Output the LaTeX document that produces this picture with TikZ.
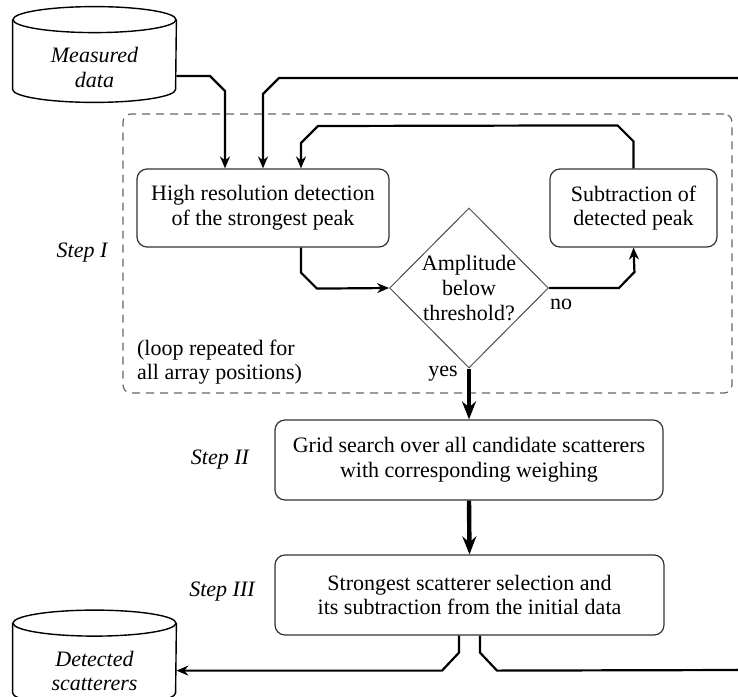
\documentclass[tikz,border=0pt]{standalone}
\usepackage{fontspec}
\setmainfont{Liberation Serif}
\usetikzlibrary{shapes.geometric,arrows.meta,calc}

\begin{document}
\begin{tikzpicture}[x=0.5pt,y=-0.5pt,font=\fontsize{11}{12.3}\selectfont,
    box/.style={draw=black!80,line width=0.6pt,rounded corners=5pt,align=center,inner sep=0pt},
    storebox/.style={minimum width=81.5pt,minimum height=34.5pt,inner sep=0pt,align=center,font=\fontsize{11}{12.3}\selectfont\itshape},
    frame/.style={draw=black!60,dash pattern=on 4pt off 3pt,line width=0.6pt,rounded corners=4pt,inner sep=0pt},
    conn/.style={line width=1.1pt,-{Stealth[length=6pt,width=5pt,inset=2pt]}},
    bigconn/.style={line width=2.2pt,-{Stealth[length=9pt,width=7pt,inset=3pt]}},
    steptext/.style={font=\fontsize{11}{12.3}\selectfont\itshape}]
		\useasboundingbox (0,0) rectangle (738,696);
		% stores (drawn as cylinders round the nodes)
		\node[storebox] (meas) at (94.5,67.5) {Measured\\data};
		\node[storebox] (det) at (94.5,671) {Detected\\scatterers};
		\foreach \s in {meas,det}{
			\draw[line width=0.7pt] ($(\s.north west)+(0,-13)$) -- ($(\s.south west)+(0,-13)$)
				arc[start angle=180,end angle=0,x radius=81.5,y radius=13] -- ($(\s.north east)+(0,-13)$);
			\draw[line width=0.7pt] ($(\s.north)+(0,-13)$) ellipse[x radius=81.5,y radius=13];
		}
		% loop of step I
		\node[frame,minimum width=304.5pt,minimum height=139.5pt] (loopbox) at (427.5,253.5) {};
		\node[box,minimum width=126pt,minimum height=39pt] (hres) at (263,208) {High resolution detection\\of the strongest peak};
		\node[box,minimum width=83.5pt,minimum height=39pt] (subt) at (633.5,208) {Subtraction of\\detected peak};
		\node[draw=black!70,line width=0.5pt,diamond,minimum width=79pt,minimum height=80pt,inner sep=0pt,align=center] (thr) at (469,288) {Amplitude\\below\\threshold?};
		% steps II and III
		\node[box,minimum width=194pt,minimum height=40pt] (grid) at (469,460) {Grid search over all candidate scatterers\\with corresponding weighing};
		\node[box,minimum width=194.5pt,minimum height=40pt] (strong) at (469.5,595) {Strongest scatterer selection and\\its subtraction from the initial data};
		% labels
		\node[steptext] (s1) at (82,253) {Step I};
		\node[steptext] (s2) at (220,460) {Step II};
		\node[steptext] (s3) at (222,592) {Step III};
		\node[align=left,anchor=west] (note) at (130,362) {(loop repeated for\\all array positions)};
		\node (no) at (561,304) {no};
		\node (yes) at (443,374) {yes};
		% connectors
		\draw[conn] (meas.east |- 0,76) -- (210,76) -- (225,91) -- ($(hres.north)+(-38,0)$);
		\draw[conn] ($(strong.south)+(10.5,0)$) -- ++(0,17) -- ++(17,18) -- (738,670) -- (745,663) -- (745,85) -- (738,78) -- (279,78) -- (263,94) -- (hres.north);
		\draw[conn] (subt.north) -- ++(0,-27) -- ++(-16,-16) -- (318,126) -- (301,143) -- ($(hres.north)+(38,0)$);
		\draw[conn] ($(hres.south)+(38,0)$) -- ++(0,25) -- ++(16,16) -- (thr.west);
		\draw[conn] (thr.east) -- ++(70,0) -- ++(15.5,-16) -- (subt.south);
		\draw[bigconn] (thr.south) -- (grid.north);
		\draw[bigconn] (grid.south) -- (strong.north);
		\draw[conn] ($(strong.south)+(-10.5,0)$) -- ++(0,17) -- ++(-17,18) coordinate (c2) -- (c2 -| det.east);
\end{tikzpicture}
\end{document}
